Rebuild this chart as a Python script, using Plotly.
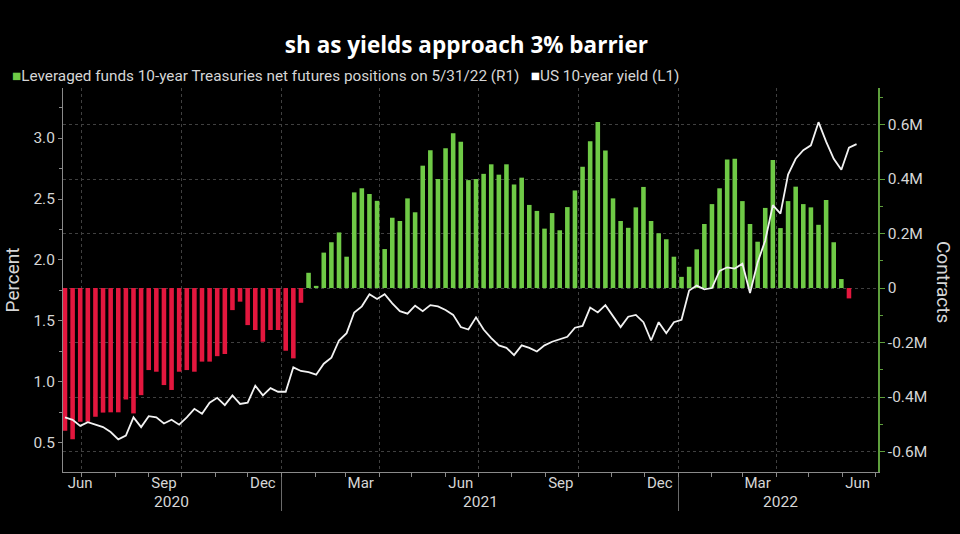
import plotly.graph_objects as go
import pandas as pd

# ---------------- data ----------------
# Leveraged funds 10-year Treasuries net futures positions (millions of contracts), weekly
positions_m = [
    -0.524, -0.555, -0.491, -0.491, -0.472, -0.457, -0.456, -0.456, -0.409, -0.460,
    -0.393, -0.301, -0.307, -0.356, -0.374, -0.307, -0.301, -0.307, -0.270, -0.270,
    -0.250, -0.242, -0.081, -0.050, -0.136, -0.154, -0.197, -0.154, -0.154, -0.230,
    -0.258, -0.054,
    0.056, 0.008, 0.130, 0.168, 0.204, 0.115, 0.351, 0.366, 0.345, 0.320,
    0.143, 0.258, 0.246, 0.329, 0.278, 0.449, 0.506, 0.400, 0.513, 0.568,
    0.537, 0.396, 0.400, 0.419, 0.454, 0.416, 0.454, 0.380, 0.405, 0.305,
    0.283, 0.218, 0.275, 0.212, 0.297, 0.358, 0.445, 0.539, 0.609, 0.505,
    0.329, 0.246, 0.221,
    0.296, 0.371, 0.246, 0.201, 0.179, 0.115, 0.041, 0.078, 0.142, 0.235,
    0.308, 0.366, 0.472, 0.474, 0.319, 0.235, 0.170, 0.294, 0.470, 0.220,
    0.319, 0.372, 0.308, 0.296, 0.232, 0.323, 0.168, 0.033,
    -0.038,
]

# US 10-year yield (percent), weekly
yield_pct = [
    0.71, 0.69, 0.64, 0.67, 0.65, 0.63, 0.59, 0.53, 0.56, 0.71,
    0.63, 0.72, 0.71, 0.66, 0.69, 0.65, 0.71, 0.78, 0.74, 0.83,
    0.87, 0.81, 0.89, 0.82, 0.83, 0.97, 0.89, 0.95, 0.92, 0.92,
    1.12, 1.09, 1.08, 1.06, 1.15, 1.20, 1.34, 1.40, 1.57, 1.62,
    1.72, 1.68, 1.72, 1.645, 1.58, 1.56, 1.625, 1.58, 1.63, 1.62,
    1.59, 1.55, 1.45, 1.43, 1.53, 1.43, 1.36, 1.30, 1.28, 1.22,
    1.30, 1.28, 1.25, 1.30, 1.33, 1.35, 1.37, 1.445, 1.46, 1.61,
    1.57, 1.63, 1.54, 1.45, 1.535, 1.55, 1.49, 1.34, 1.49, 1.40,
    1.49, 1.51, 1.75, 1.79, 1.76, 1.77, 1.91, 1.94, 1.93, 1.97,
    1.73, 1.98, 2.16, 2.45, 2.38, 2.70, 2.83, 2.90, 2.94, 3.13,
    2.97, 2.83, 2.74, 2.92, 2.95,
]

first_week = "2020-06-16"
bar_dates = pd.date_range(first_week, periods=len(positions_m), freq="7D")
yield_dates = pd.date_range(first_week, periods=len(yield_pct), freq="7D")

month_labels = ["Jun", "Sep", "Dec", "Mar", "Jun", "Sep", "Dec", "Mar", "Jun"]
month_label_dates = ["2020-06-30", "2020-09-15", "2020-12-15", "2021-03-15", "2021-06-15",
                     "2021-09-15", "2021-12-15", "2022-03-15", "2022-06-15"]
year_labels = ["2020", "2021", "2022"]
year_label_dates = ["2020-09-22", "2021-07-03", "2022-04-05"]
year_starts = ["2021-01-01", "2022-01-01"]
quarter_starts = ["2020-07-01", "2020-10-01", "2021-04-01", "2021-07-01", "2021-10-01", "2022-04-01"]
month_starts = list(pd.date_range("2020-07-01", "2022-07-01", freq="MS"))

pct_ticks = [0.5, 1.0, 1.5, 2.0, 2.5, 3.0]
pct_minor = [0.75, 1.25, 1.75, 2.25, 2.75, 3.25]
contract_ticks = [-0.6, -0.4, -0.2, 0, 0.2, 0.4, 0.6]
contract_ticktext = ["-0.6M", "-0.4M", "-0.2M", "0", "0.2M", "0.4M", "0.6M"]

# ---------------- style ----------------
GREEN = "#6fca46"
RED = "#e3173e"
AXIS_GREEN = "#5e9f3c"
GREY = "#8a8a8a"
GRID = "#404040"
TXT = "#d6d6d6"
FONT = "Roboto, Open Sans, sans-serif"
X_RANGE = ["2020-06-14 04:00", "2022-07-03 17:00"]

bar_colors = [GREEN if v >= 0 else RED for v in positions_m]

fig = go.Figure()
fig.add_trace(go.Bar(
    x=bar_dates, y=positions_m, xaxis="x", yaxis="y",
    marker=dict(color=bar_colors, line=dict(width=0)),
    name="Leveraged funds 10-year Treasuries net futures positions on 5/31/22 (R1)",
    showlegend=False,
))
fig.add_trace(go.Scatter(
    x=yield_dates, y=yield_pct, xaxis="x2", yaxis="y2", mode="lines",
    line=dict(color="#f2f2f2", width=1.8),
    name="US 10-year yield (L1)", showlegend=False,
))

fig.update_layout(
    width=960, height=534,
    paper_bgcolor="#000000", plot_bgcolor="#000000",
    margin=dict(l=63, r=82, t=88, b=62),
    font=dict(family=FONT, color=TXT, size=15),
    bargap=0.4,
    title=dict(
        text="<b>sh as yields approach 3% barrier</b>",
        x=648 / 960, xanchor="right", xref="container",
        y=1 - 45 / 534, yanchor="middle", yref="container",
        font=dict(family="Open Sans, sans-serif", size=22.5, color="#ffffff"),
    ),
    xaxis=dict(
        type="date", range=X_RANGE, anchor="y",
        tickmode="array", tickvals=year_starts, showticklabels=False,
        ticks="outside", ticklen=38, tickcolor="#6a6a6a", tickwidth=1,
        showgrid=True, gridcolor=GRID, griddash="dot", gridwidth=1,
        minor=dict(tickmode="array", tickvals=quarter_starts, showgrid=True,
                   gridcolor=GRID, griddash="dot", ticks="outside", ticklen=4,
                   tickcolor=GREY),
        showline=True, linecolor=GREY, linewidth=1, zeroline=False,
    ),
    xaxis2=dict(
        type="date", range=X_RANGE, overlaying="x", anchor="y", side="bottom",
        tickmode="array", tickvals=month_label_dates, ticktext=month_labels,
        ticks="", showgrid=False, showline=False, zeroline=False,
        tickfont=dict(size=15, color=TXT),
        minor=dict(tickmode="array", tickvals=month_starts, ticks="outside",
                   ticklen=4, tickcolor=GREY, showgrid=False),
    ),
    yaxis=dict(
        side="right", range=[-0.675, 0.734], anchor="x",
        tickmode="array", tickvals=contract_ticks, ticktext=contract_ticktext,
        ticks="outside", ticklen=5, tickcolor=AXIS_GREEN,
        showline=True, linecolor=AXIS_GREEN, linewidth=1.5,
        showgrid=True, gridcolor=GRID, griddash="dot", gridwidth=1,
        zeroline=False,
        minor=dict(dtick=0.1, tick0=0, ticks="outside", ticklen=3,
                   tickcolor=AXIS_GREEN, showgrid=False),
        tickfont=dict(size=15.5, color=TXT),
    ),
    yaxis2=dict(
        side="left", overlaying="y", anchor="x2", range=[0.262, 3.41],
        tickmode="array", tickvals=pct_ticks, ticktext=[f"{v:.1f}" for v in pct_ticks],
        ticks="outside", ticklen=4, tickcolor=GREY,
        showline=True, linecolor=GREY, linewidth=1,
        showgrid=False, zeroline=False,
        minor=dict(tickmode="array", tickvals=pct_minor, ticks="outside",
                   ticklen=3, tickcolor=GREY, showgrid=False),
        tickfont=dict(size=15.5, color=TXT),
        title=dict(text="Percent", font=dict(size=19, color=TXT), standoff=8),
    ),
)

annotations = [
    dict(
        text=(f"<span style='color:{GREEN}'>■</span>Leveraged funds 10-year Treasuries "
              "net futures positions on 5/31/22 (R1)&nbsp;&nbsp;&nbsp;"
              "<span style='color:#ffffff'>■</span>US 10-year yield (L1)"),
        xref="paper", yref="paper", x=(10 - 63) / 815, y=(472 - 76) / 384,
        xanchor="left", yanchor="middle", showarrow=False,
        font=dict(size=15.3, color=TXT, family=FONT),
    ),
    dict(
        text="Contracts", xref="paper", yref="paper",
        x=(944 - 63) / 815, y=(472 - 282) / 384, textangle=90,
        xanchor="center", yanchor="middle", showarrow=False,
        font=dict(size=19, color=TXT, family=FONT),
    ),
]
for lbl, d in zip(year_labels, year_label_dates):
    annotations.append(dict(
        text=lbl, xref="x", yref="paper", x=d, y=(472 - 502) / 384,
        xanchor="center", yanchor="middle", showarrow=False,
        font=dict(size=15.5, color=TXT, family=FONT),
    ))
fig.update_layout(annotations=annotations)

fig.write_html(
    "out.html",
    config={"displayModeBar": False},
    post_script="document.body.style.margin='0';document.body.style.background='#000';",
)
